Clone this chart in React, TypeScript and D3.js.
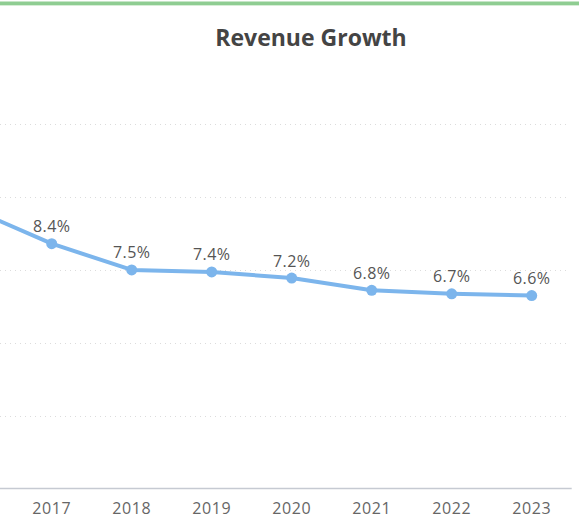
import React, { useEffect, useRef } from 'react';
import * as d3 from 'd3';

// Revenue growth per year (%) - the chart is cropped on the left, 2016 sits off-canvas
const years = ['2016', '2017', '2018', '2019', '2020', '2021', '2022', '2023'];
const growth = [9.6, 8.4, 7.5, 7.43, 7.22, 6.8, 6.68, 6.62];
const yTicks = [0, 2.5, 5, 7.5, 10, 12.5];

const WIDTH = 579;
const HEIGHT = 531;

export default function App() {
  const ref = useRef<SVGSVGElement>(null);

  useEffect(() => {
    if (!ref.current) return;
    const svg = d3.select(ref.current);
    svg.selectAll('*').remove();

    const plotRight = 571.7;
    const band = 80;
    const plotTop = 124.3;
    const plotBottom = 488.3;

    const x = d3
      .scaleBand<string>()
      .domain(years)
      .range([plotRight - band * years.length, plotRight]);
    const cx = (d: string) => (x(d) ?? 0) + x.bandwidth() / 2;

    const y = d3.scaleLinear().domain([0, 12.5]).range([plotBottom, plotTop]);

    // labels only for the years that fall inside the visible area
    const visible = (i: number) => cx(years[i]) > 15;

    // top accent line
    svg.append('rect')
      .attr('x', 0).attr('y', 1.5).attr('width', WIDTH).attr('height', 3.5)
      .attr('fill', '#8fcd92');
    svg.append('rect')
      .attr('x', 0).attr('y', 5).attr('width', WIDTH).attr('height', 1)
      .attr('fill', '#d6eed6');

    // title
    svg.append('text')
      .attr('x', 311)
      .attr('y', 45.5)
      .attr('text-anchor', 'middle')
      .attr('font-family', '"Open Sans", sans-serif')
      .attr('font-weight', 'bold')
      .attr('font-size', '23px')
      .attr('fill', '#444')
      .text('Revenue Growth');

    // dotted grid
    svg.append('g')
      .selectAll('line')
      .data(yTicks.filter(t => t > 0))
      .join('line')
      .attr('x1', 0)
      .attr('x2', plotRight - 5)
      .attr('y1', d => Math.round(y(d)) + 0.5)
      .attr('y2', d => Math.round(y(d)) + 0.5)
      .attr('stroke', '#dcdcdc')
      .attr('stroke-width', 1)
      .attr('stroke-dasharray', '1,4');

    // x axis
    const xAxis = svg.append('g')
      .attr('transform', `translate(0,${Math.round(plotBottom) + 0.5})`)
      .call(
        d3.axisBottom(x)
          .tickValues(years.filter((_, i) => visible(i)))
          .tickSize(0)
          .tickPadding(14)
      );
    xAxis.select('.domain')
      .attr('d', `M0,0H${plotRight}`)
      .attr('stroke', '#c6cad2')
      .attr('stroke-width', 1.5);
    xAxis.selectAll('text')
      .attr('font-family', '"Open Sans", sans-serif')
      .attr('font-size', '16px')
      .attr('letter-spacing', '0.6px')
      .attr('fill', '#666');

    // line
    const line = d3
      .line<number>()
      .x((_, i) => cx(years[i]))
      .y(d => y(d));

    svg.append('path')
      .datum(growth)
      .attr('fill', 'none')
      .attr('stroke', '#7cb5ec')
      .attr('stroke-width', 4)
      .attr('stroke-linejoin', 'round')
      .attr('d', line);

    svg.append('g')
      .selectAll('circle')
      .data(growth)
      .join('circle')
      .attr('cx', (_, i) => cx(years[i]))
      .attr('cy', d => y(d))
      .attr('r', 5.5)
      .attr('fill', '#7cb5ec');

    // data labels
    svg.append('g')
      .selectAll('text')
      .data(growth.map((v, i) => ({ v, i })).filter(d => visible(d.i)))
      .join('text')
      .attr('x', d => cx(years[d.i]))
      .attr('y', d => y(d.v) - 11.5)
      .attr('text-anchor', 'middle')
      .attr('font-family', '"Open Sans", sans-serif')
      .attr('font-size', '16px')
      .attr('letter-spacing', '0.4px')
      .attr('fill', '#555')
      .text(d => `${d3.format('.1f')(d.v)}%`);
  }, []);

  return (
    <svg
      ref={ref}
      width={WIDTH}
      height={HEIGHT}
      style={{ position: 'absolute', left: 0, top: 0, background: '#fff' }}
    />
  );
}
